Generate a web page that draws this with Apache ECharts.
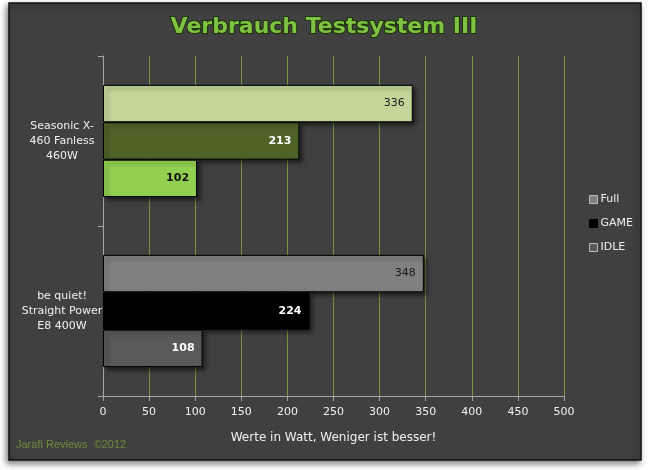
<!DOCTYPE html>
<html><head><meta charset="utf-8">
<script src="https://cdn.jsdelivr.net/npm/echarts@6/dist/echarts.min.js"></script>
<style>html,body{margin:0;padding:0;background:#fff}#c{width:648px;height:470px}</style>
</head><body><div id="c"></div>
<script>
var categories = ['Seasonic X-\n460 Fanless\n460W', 'be quiet!\nStraight Power\nE8 400W'];
var seriesNames = ['Full', 'GAME', 'IDLE'];
var fullValues = [336, 348];
var gameValues = [213, 224];
var idleValues = [102, 108];
var xTicks = [0, 50, 100, 150, 200, 250, 300, 350, 400, 450, 500];

var barColors = {
  Full: ['#c4d79b', '#808080'],
  GAME: ['#4f6228', '#000000'],
  IDLE: ['#92d050', '#595959']
};
var labelColors = {
  Full: ['#1a1a1a', '#1a1a1a'],
  GAME: ['#ffffff', '#ffffff'],
  IDLE: ['#111111', '#ffffff']
};
var labelWeights = {Full: ['normal','normal'], GAME: ['bold','bold'], IDLE: ['bold','bold']};
var legendColors = {Full: '#808080', GAME: '#000000', IDLE: '#595959'};
var values = {Full: fullValues, GAME: gameValues, IDLE: idleValues};

var chart = echarts.init(document.getElementById('c'), null, {renderer: 'canvas'});
function mkSeries(name) {
  return {
    name: name, type: 'bar',
    barGap: '0%', barCategoryGap: '34%',
    itemStyle: {color: legendColors[name], borderColor: '#000', borderWidth: 1},
    data: values[name].map(function (v, i) {
      return {
        value: v,
        itemStyle: {color: barColors[name][i], borderColor: '#000', borderWidth: 1,
          shadowColor: 'rgba(0,0,0,0.5)', shadowBlur: 4, shadowOffsetX: 3, shadowOffsetY: 3},
        label: {color: labelColors[name][i], fontWeight: labelWeights[name][i]}
      };
    }),
    label: {show: true, position: 'insideRight', distance: 8, fontFamily: 'DejaVu Sans', fontSize: 11},
    z: 3
  };
}
chart.setOption({
  backgroundColor: '#ffffff',
  animation: false,
  graphic: [{
    type: 'rect', shape: {x: 9, y: 3, width: 632, height: 457}, z: -10,
    style: {fill: '#404040', stroke: '#111', lineWidth: 1.5,
      shadowColor: 'rgba(0,0,0,0.5)', shadowBlur: 6, shadowOffsetX: -2, shadowOffsetY: 3}
  }, {
    type: 'text', left: 16, top: 439, z: 10,
    style: {text: 'Jarafi Reviews  \u00a92012', fill: '#6e8b3d', font: '11px "Liberation Sans Narrow", "Liberation Sans", sans-serif'}
  }],
  title: {
    text: 'Verbrauch Testsystem III', left: 'center', top: 11,
    textStyle: {color: '#7dc242', fontFamily: 'DejaVu Sans', fontSize: 22, fontWeight: 'bold',
      textBorderColor: '#1e3306', textBorderWidth: 2}
  },
  legend: {
    orient: 'vertical', left: 584, top: 189, itemGap: 13,
    itemWidth: 8, itemHeight: 8, icon: 'rect',
    data: seriesNames.map(function (n) {
      return {name: n, itemStyle: {color: legendColors[n], borderColor: n === 'GAME' ? '#000' : '#bbb', borderWidth: 1}};
    }),
    textStyle: {color: '#eeeeee', fontFamily: 'DejaVu Sans', fontSize: 11, padding: [0, 0, 0, -2]}
  },
  grid: {left: 103, right: 84, top: 56, bottom: 74, containLabel: false},
  xAxis: {
    type: 'value', min: 0, max: 500, interval: 50,
    name: 'Werte in Watt, Weniger ist besser!', nameLocation: 'middle', nameGap: 36,
    nameTextStyle: {color: '#f0f0f0', fontFamily: 'DejaVu Sans', fontSize: 12},
    axisLine: {show: true, lineStyle: {color: '#a6a6a6', width: 1}},
    axisTick: {show: true, length: 5, lineStyle: {color: '#a6a6a6'}},
    axisLabel: {color: '#f0f0f0', fontFamily: 'DejaVu Sans', fontSize: 11, margin: 11,
      formatter: function (v) { return xTicks.indexOf(v) >= 0 ? String(v) : ''; }},
    splitLine: {show: true, lineStyle: {color: '#77933c', width: 1}}
  },
  yAxis: {
    type: 'category', data: categories, inverse: true,
    axisLine: {show: true, lineStyle: {color: '#a6a6a6', width: 1}},
    axisTick: {show: true, length: 5, lineStyle: {color: '#a6a6a6'}},
    axisLabel: {color: '#f0f0f0', fontFamily: 'DejaVu Sans', fontSize: 11, align: 'center',
      margin: 41, lineHeight: 15},
    splitLine: {show: false}
  },
  series: seriesNames.map(mkSeries)
});
</script></body></html>
